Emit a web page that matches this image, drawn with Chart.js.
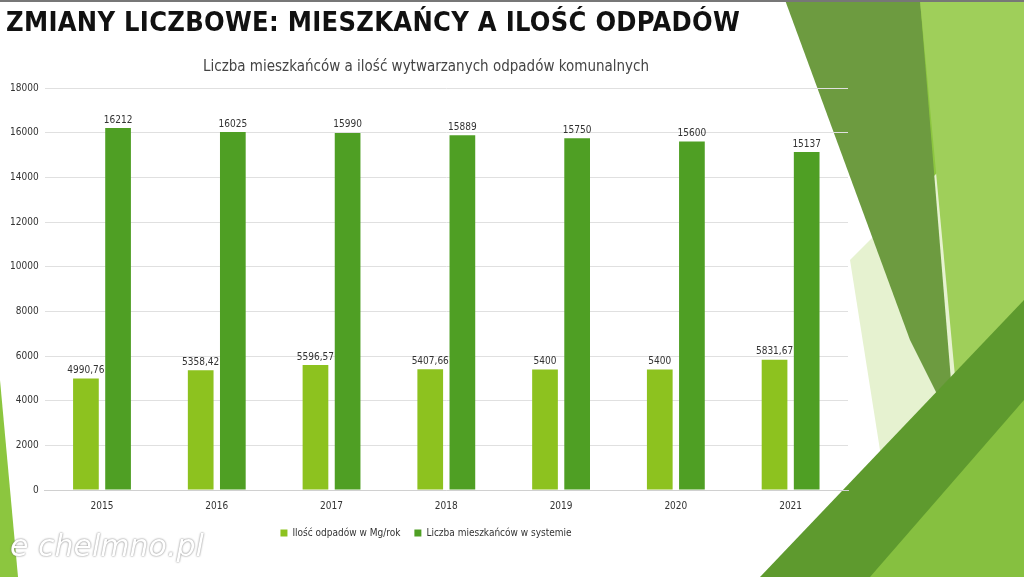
<!DOCTYPE html>
<html>
<head>
<meta charset="utf-8">
<script src="https://cdn.jsdelivr.net/npm/chart.js@4"></script>
<style>
  body { margin: 0; width: 1024px; height: 577px; overflow: hidden; background: #fff; position: relative; }
  #bg { position: absolute; left: 0; top: 0; }
  #wrap { position: absolute; left: 0; top: 0; width: 1024px; height: 577px; }
  h1 { position: absolute; left: 6px; top: 6px; margin: 0; font: bold 27px "DejaVu Sans Condensed", sans-serif; color: #111; letter-spacing: 0.3px; }
  .topline { position: absolute; left: 0; top: 0; width: 1024px; height: 2px; background: #777; }
  .logo { position: absolute; left: 10px; top: 528px; font: italic 30px "DejaVu Sans", sans-serif; color: #fff; text-shadow: 0 0 2px #666; }
</style>
</head>
<body>
<canvas id="bg" width="1024" height="577"></canvas>
<div class="topline"></div>
<h1>ZMIANY LICZBOWE: MIESZKAŃCY A ILOŚĆ ODPADÓW</h1>
<div id="wrap"><canvas id="chart"></canvas></div>
<div class="logo">e chelmno.pl</div>
<script>
const years = ['2015', '2016', '2017', '2018', '2019', '2020', '2021']
const waste = [4990.76, 5358.42, 5596.57, 5407.66, 5400, 5400, 5831.67]
const residents = [16212, 16025, 15990, 15889, 15750, 15600, 15137]
const seriesNames = ['Ilość odpadów w Mg/rok', 'Liczba mieszkańców w systemie']

// slide decoration
const bg = document.getElementById('bg').getContext('2d')
function poly(color, pts) {
    bg.fillStyle = color
    bg.beginPath()
    pts.forEach((p, i) => i ? bg.lineTo(p[0], p[1]) : bg.moveTo(p[0], p[1]))
    bg.closePath()
    bg.fill()
}
poly('#8cc63f', [[920, 0], [1024, 0], [1024, 577], [930, 577]])
poly('#e6f2d0', [[850, 260], [960, 150], [1000, 577], [900, 577]])
poly('#6d9b40', [[785, 0], [920, 0], [955, 430], [910, 340]])
poly('#9fcf5a', [[920, 0], [1024, 0], [1024, 300], [960, 430]])
poly('#5e9a2e', [[760, 577], [1024, 300], [1024, 577]])
poly('#86c040', [[870, 577], [1024, 400], [1024, 577]])
poly('#8cc63f', [[0, 380], [18, 577], [0, 577]])

const fmt = v => String(v).replace('.', ',')
const valueLabels = {
    id: 'valueLabels',
    afterDatasetsDraw(chart) {
        const ctx = chart.ctx
        ctx.save()
        ctx.font = '10px "DejaVu Sans Condensed", sans-serif'
        ctx.fillStyle = '#333'
        ctx.textAlign = 'center'
        chart.data.datasets.forEach((ds, i) => {
            chart.getDatasetMeta(i).data.forEach((bar, j) => {
                ctx.fillText(fmt(ds.data[j]), bar.x, bar.y - 8)
            })
        })
        ctx.restore()
    }
}

new Chart(document.getElementById('chart'), {
    type: 'bar',
    data: {
        labels: years,
        datasets: [
            { label: seriesNames[0], data: waste, backgroundColor: '#8dc21f' },
            { label: seriesNames[1], data: residents, backgroundColor: '#4f9f24' }
        ]
    },
    options: {
        responsive: true,
        maintainAspectRatio: false,
        animation: false,
        layout: { padding: { left: 4, right: 176, top: 58, bottom: 29 } },
        datasets: { bar: { categoryPercentage: 0.56, barPercentage: 0.8 } },
        scales: {
            x: {
                grid: { display: false },
                border: { color: '#d0d0d0' },
                ticks: { color: '#333', padding: 2, font: { family: 'DejaVu Sans Condensed', size: 10 } }
            },
            y: {
                min: 0, max: 18000,
                ticks: { stepSize: 2000, color: '#333', padding: 6, callback: v => String(v), font: { family: 'DejaVu Sans Condensed', size: 10 } },
                grid: { color: '#e0e0e0', drawTicks: false },
                border: { display: false }
            }
        },
        plugins: {
            title: { display: true, text: 'Liczba mieszkańców a ilość wytwarzanych odpadów komunalnych', color: '#444', font: { family: 'DejaVu Sans Condensed', size: 15, weight: 'normal' }, padding: { bottom: 12 } },
            legend: { position: 'bottom', labels: { boxWidth: 7, boxHeight: 7, color: '#333', padding: 14, font: { family: 'DejaVu Sans Condensed', size: 10 } } },
            tooltip: { enabled: false }
        }
    },
    plugins: [valueLabels]
})
</script>
</body>
</html>
